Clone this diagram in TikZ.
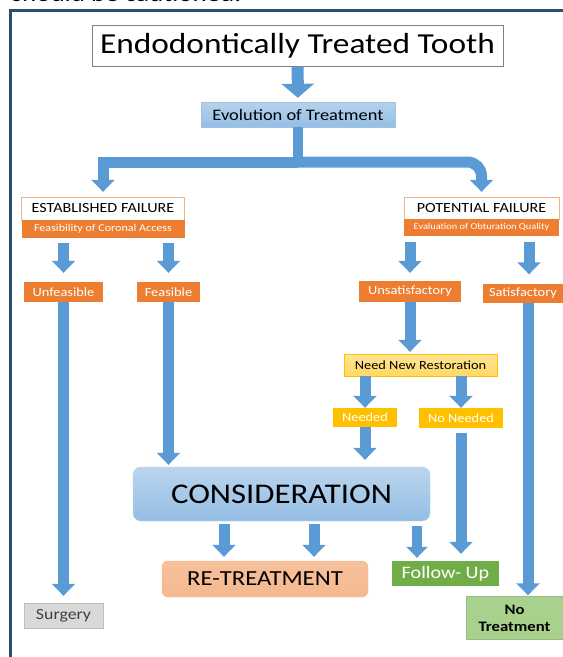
\documentclass[tikz,border=0pt]{standalone}
\usepackage{fontspec}
\setmainfont[FakeStretch=1.15]{Carlito}
\usepackage{xcolor}
\usepackage{tikz}
\usetikzlibrary{arrows.meta}
\tikzset{>=stealth}

\definecolor{arrowblue}{HTML}{5B9BD5}
\definecolor{framenavy}{HTML}{2E4A6E}
\definecolor{boxgray}{HTML}{7F7F7F}
\definecolor{darkorange}{HTML}{ED7D31}
\definecolor{paleorange}{HTML}{F4B183}
\definecolor{gold}{HTML}{FFC000}
\definecolor{palegold}{HTML}{FFD966}
\definecolor{grassgreen}{HTML}{70AD47}
\definecolor{palegreen}{HTML}{A9D18E}

\tikzset{
  blk/.style={draw=arrowblue, line width=11pt, -{Triangle[width=23pt,length=12pt]}},
  blkbig/.style={draw=arrowblue, line width=12pt, -{Triangle[width=32pt,length=14pt]}},
  blksmall/.style={draw=arrowblue, line width=10pt, -{Triangle[width=21pt,length=11pt]}},
  bar/.style={draw=arrowblue, line width=10pt},
  box/.style={inner sep=0pt, align=center},
  orangebox/.style={box, fill=darkorange, text=white},
  goldbox/.style={box, fill=gold, text=white},
  fs/.style={font=\fontsize{#1}{#1}\selectfont},
  fsb/.style={font=\fontsize{#1}{17}\selectfont\bfseries}
}

\begin{document}
\begin{tikzpicture}[x=1pt,y=-1pt]
\useasboundingbox (0,0) rectangle (563,657);
\clip (0,0) rectangle (563,657);

\node[anchor=base west, fs=23.5] (note) at (8,1.5){should be cautioned.};
\draw[framenavy, line width=2.6pt] (10.7,660) |- (566,10.7);

\node[box, draw=boxgray, line width=1pt, fill=white, minimum width=411pt, minimum height=41pt, fs=29] (title) at (297.5,45.5){Endodontically Treated Tooth};
\node[box, draw=arrowblue!60, top color=arrowblue!45, bottom color=arrowblue!65, minimum width=194pt, minimum height=25pt, fs=16] (evol) at (298,114.5){Evolution of Treatment};

\node[box, draw=paleorange, fill=white, minimum width=163pt, minimum height=23pt, fs=14] (est) at (103,208.5){ESTABLISHED FAILURE};
\node[orangebox, minimum width=163pt, minimum height=18pt, fs=10.5] (estsub) at (103,229){Feasibility of Coronal Access};
\node[box, draw=paleorange, fill=white, minimum width=155pt, minimum height=22pt, fs=14] (pot) at (481.5,208){POTENTIAL FAILURE};
\node[orangebox, minimum width=155pt, minimum height=17pt, fs=9] (potsub) at (481.5,227.5){Evaluation of Obturation Quality};

\node[orangebox, minimum width=79pt, minimum height=20pt, fs=12.5] (unf) at (63.5,292){Unfeasible};
\node[orangebox, minimum width=63pt, minimum height=20pt, fs=12.5] (feas) at (168.5,292){Feasible};
\node[orangebox, minimum width=102pt, minimum height=21pt, fs=12.5] (unsat) at (410,291.5){Unsatisfactory};
\node[orangebox, minimum width=80pt, minimum height=19pt, fs=12.5] (sat) at (523,293){Satisfactory};

\node[box, draw=gold, top color=palegold!70, bottom color=palegold, minimum width=153pt, minimum height=22pt, fs=12.5] (nnr) at (420.5,365){Need New Restoration};
\node[goldbox, minimum width=64pt, minimum height=19pt, fs=12.5] (need) at (365,417.5){Needed};
\node[goldbox, minimum width=84pt, minimum height=20pt, fs=12.5] (noneed) at (461,418){No Needed};

\node[box, draw=arrowblue!45, rounded corners=8pt, top color=arrowblue!42, bottom color=arrowblue!65, minimum width=297pt, minimum height=54pt, fs=28.5] (cons) at (281.5,494){CONSIDERATION};
\node[box, draw=paleorange, rounded corners=6pt, top color=paleorange!80, bottom color=paleorange!100!red!90, minimum width=206pt, minimum height=36pt, fs=21.5] (retreat) at (265,579){RE-TREATMENT};
\node[box, fill=grassgreen, text=white, minimum width=107pt, minimum height=25pt, fs=17.5] (follow) at (445.5,573.5){Follow- Up};
\node[box, draw=black!25, fill=black!15, text=black!75, minimum width=79pt, minimum height=25pt, fs=15.5] (surg) at (63.5,615.5){Surgery};
\node[box, draw=palegreen!90!black, fill=palegreen, minimum width=97pt, minimum height=43pt, fsb=14.5] (notr) at (514.5,618){No\\Treatment};

\coordinate (split) at (298,162);

\draw[blkbig, shorten >=4pt] (title) -- (evol);
\draw[bar] (evol) -- (split);
\draw[blk, shorten >=5pt] (split) -| (est);
\draw[blk, rounded corners=14pt, shorten >=5pt] (split) -| (pot);

\draw[blk, shorten <=5pt, shorten >=9pt] (estsub.south -| unf) -- (unf);
\draw[blk, shorten <=5pt, shorten >=9pt] (estsub.south -| feas) -- (feas);
\draw[blk, shorten <=6pt, shorten >=8pt] (potsub.south -| unsat) -- (unsat);
\draw[blk, shorten <=6pt, shorten >=9pt] ([xshift=6pt]sat.north |- potsub.south) -- ([xshift=6pt]sat.north);

\draw[blk, shorten >=7pt] (unf) -- (surg);
\draw[blk, shorten >=2pt] (feas) -- (feas |- cons.north);
\draw[blk, shorten >=2pt] (unsat) -- (unsat |- nnr.north);
\draw[blk] (need |- nnr.south) -- (need);
\draw[blk] (noneed |- nnr.south) -- (noneed);
\draw[blk, shorten >=7pt] (need) -- (need |- cons.north);
\draw[blk, shorten <=5pt, shorten >=7pt] (noneed) -- (noneed |- follow.north);
\draw[blk, shorten >=1pt] ([xshift=5pt]sat.south) -- ([xshift=5pt]sat.south |- notr.north);

\draw[blk, shorten <=3pt, shorten >=4pt] ([xshift=-41pt]retreat.north |- cons.south) -- ([xshift=-41pt]retreat.north);
\draw[blk, shorten <=3pt, shorten >=4pt] ([xshift=49pt]retreat.north |- cons.south) -- ([xshift=49pt]retreat.north);
\draw[blksmall, shorten <=5pt, shorten >=3pt] ([xshift=-28.5pt]follow.north |- cons.south) -- ([xshift=-28.5pt]follow.north);
\end{tikzpicture}
\end{document}
